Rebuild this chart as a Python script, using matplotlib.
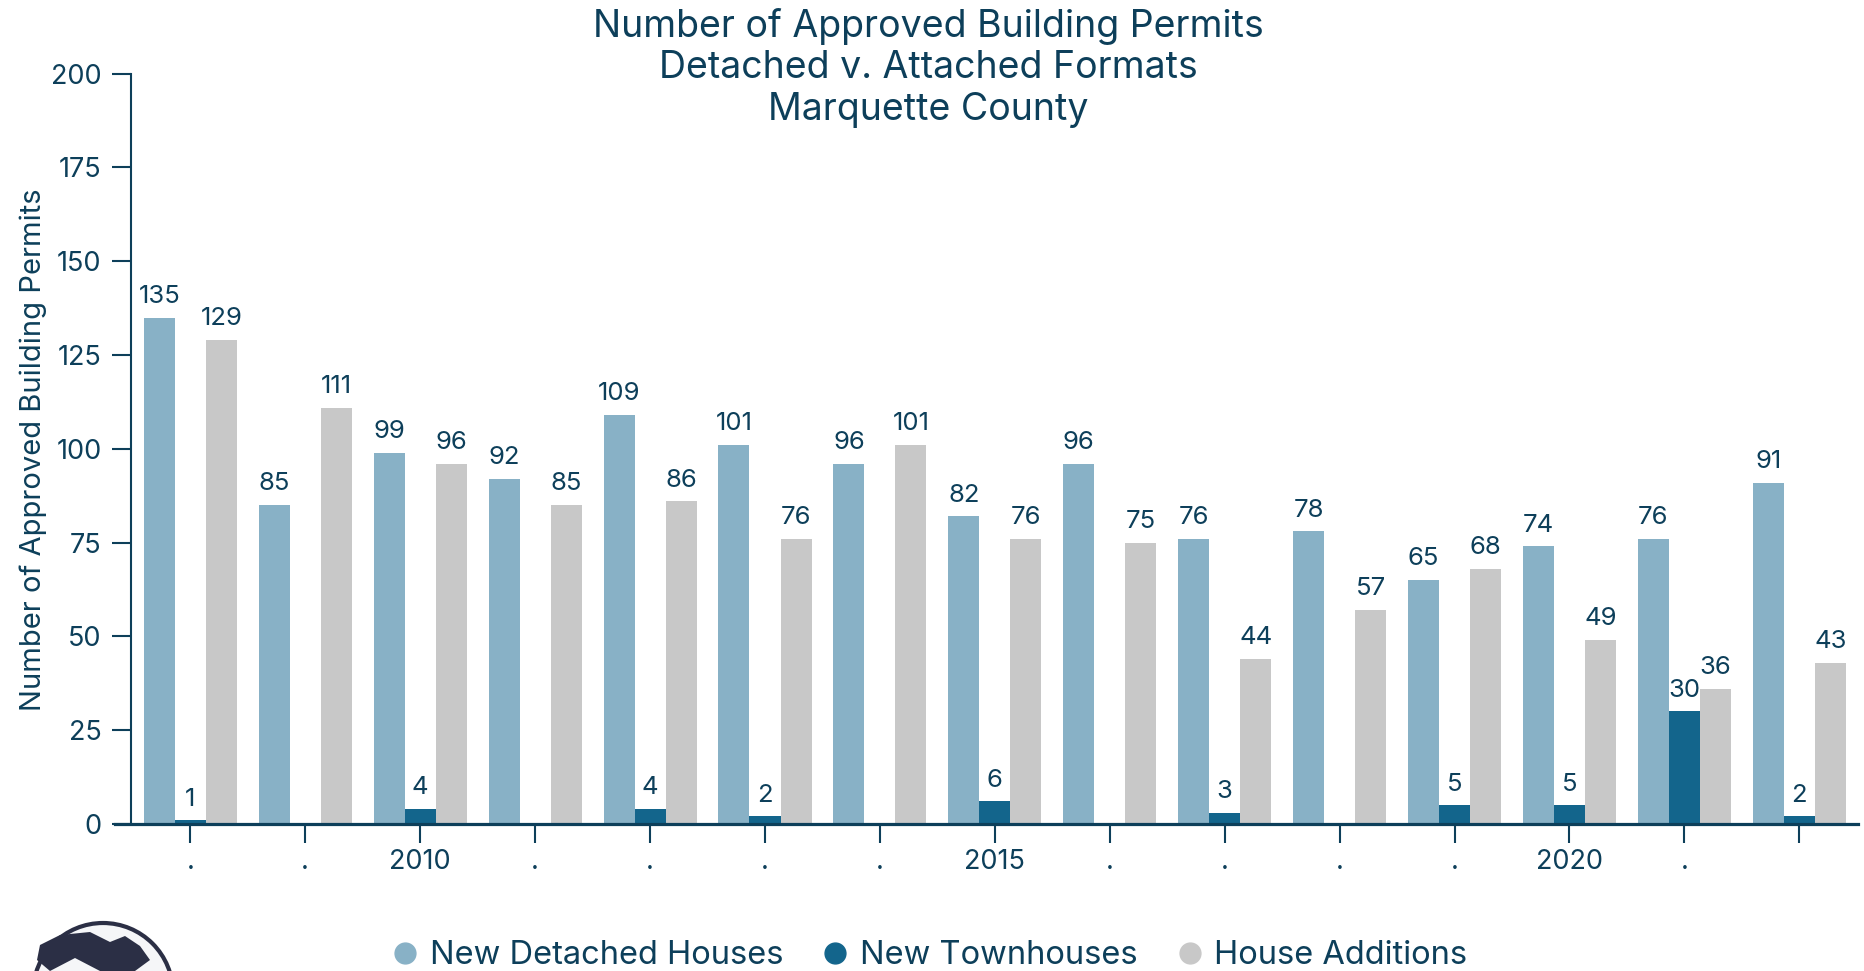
import matplotlib.pyplot as plt
import numpy as np
from matplotlib.lines import Line2D
from matplotlib.patches import Circle, Polygon

plt.rcParams['font.family'] = ['Inter', 'DejaVu Sans']

# Marquette County building permits by year
years = [2008, 2009, 2010, 2011, 2012, 2013, 2014, 2015,
         2016, 2017, 2018, 2019, 2020, 2021, 2022]
tick_labels = ['.', '.', '2010', '.', '.', '.', '.', '2015',
               '.', '.', '.', '.', '2020', '.', '']
detached = [135, 85, 99, 92, 109, 101, 96, 82, 96, 76, 78, 65, 74, 76, 91]
townhouses = [1, 0, 4, 0, 4, 2, 0, 6, 0, 3, 0, 5, 5, 30, 2]
additions = [129, 111, 96, 85, 86, 76, 101, 76, 75, 44, 57, 68, 49, 36, 43]

series = ['New Detached Houses', 'New Townhouses', 'House Additions']
colors = ['#88b1c6', '#13658c', '#c8c8c8']
ink = '#0d3f5a'

x = np.arange(len(years))
w = 0.27

fig = plt.figure(figsize=(18.65, 9.71), dpi=100)
ax = fig.add_axes([0.0619, 0.1514, 0.9343, 0.7727])

for i, (vals, col) in enumerate(zip([detached, townhouses, additions], colors)):
    pos = x + (i - 1) * w
    ax.bar(pos, vals, w, color=col, linewidth=0)
    for px, v in zip(pos, vals):
        if v > 0:
            ax.annotate(str(v), (px, v), xytext=(0, 7), textcoords='offset points',
                        ha='center', va='bottom', fontsize=18.5, color=ink)

ax.set_xlim(-0.652, 14.51)
ax.set_ylim(0, 200)
ax.set_yticks(range(0, 201, 25))
ax.set_xticks(x)
ax.set_xticklabels(tick_labels)

for side in ['top', 'right']:
    ax.spines[side].set_visible(False)
ax.spines['left'].set_position(('data', -0.518))
ax.spines['left'].set_color(ink)
ax.spines['left'].set_linewidth(1.5)
ax.spines['bottom'].set_color(ink)
ax.spines['bottom'].set_linewidth(2.3)
ax.tick_params(axis='both', colors=ink, labelsize=19.5, length=14, width=1.5, pad=7)
ax.tick_params(axis='x', pad=4)

fig.text(0.4976, 0.930, 'Number of Approved Building Permits\nDetached v. Attached Formats\nMarquette County',
         ha='center', va='center', fontsize=27, color=ink, linespacing=1.2)
fig.text(0.018, 0.537, 'Number of Approved Building Permits', rotation=90,
         ha='center', va='center', fontsize=21, color=ink)

handles = [Line2D([], [], marker='o', linestyle='', markersize=15,
                  markerfacecolor=c, markeredgecolor=c) for c in colors]
fig.legend(handles, series, loc='center', bbox_to_anchor=(0.4976, 0.016), ncol=3,
           frameon=False, fontsize=23.5, labelcolor=ink, handletextpad=0.25,
           columnspacing=1.1, handlelength=1.0)

# globe logo in the lower-left corner
globe = Circle((1.03, -0.22), 0.70, transform=fig.dpi_scale_trans,
               facecolor='#f5f6f8', edgecolor='#2b2f45', linewidth=3)
fig.add_artist(globe)
land = [(40, 945), (60, 935), (90, 932), (110, 942), (125, 936), (140, 946),
        (150, 960), (135, 971), (100, 971), (75, 958), (50, 971), (37, 960)]
fig.add_artist(Polygon([(px / 100, (971 - py) / 100) for px, py in land],
                       closed=True, transform=fig.dpi_scale_trans,
                       facecolor='#2b2f45', edgecolor='none'))

fig.savefig('out.png', dpi=100)
